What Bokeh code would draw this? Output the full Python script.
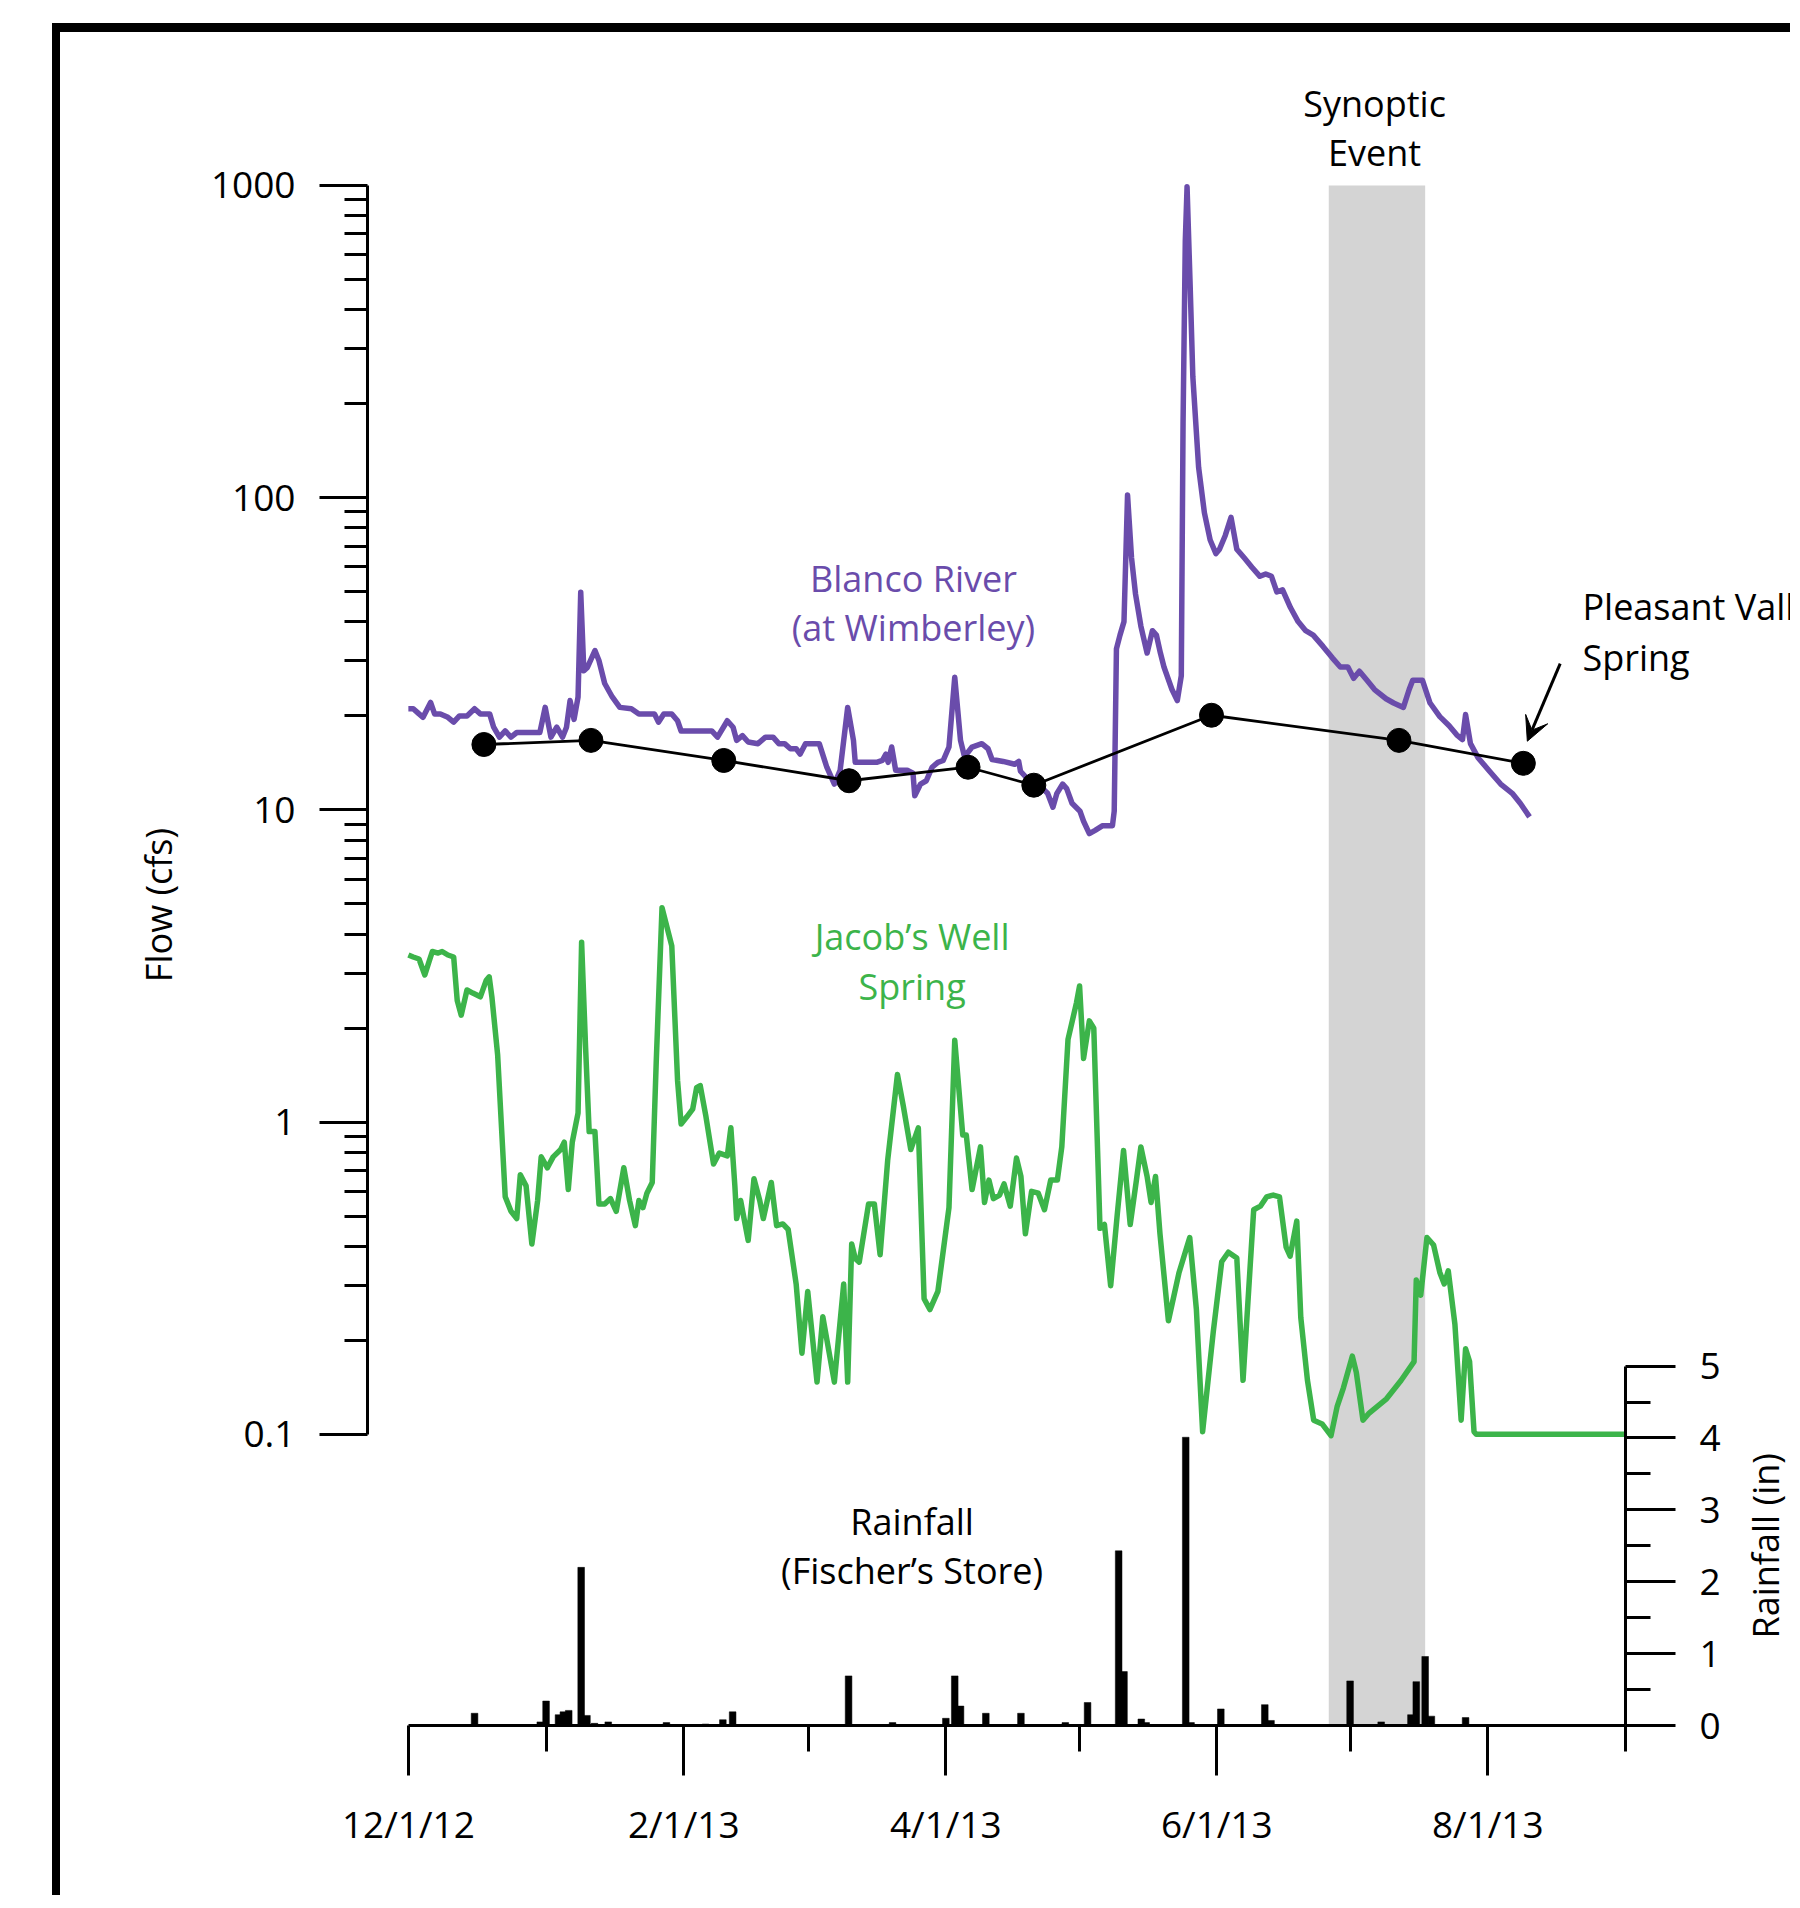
import math
from bokeh.plotting import figure
from bokeh.models import (Range1d, LinearAxis, LinearScale, FixedTicker, BoxAnnotation, Label,
                          Arrow, VeeHead)
from bokeh.embed import file_html
from bokeh.resources import INLINE

# ---------------- data (x = days since 12/1/2012) ----------------
blanco_day = [0, 1.1, 2.4, 3.3, 5.0, 5.9, 7.2, 8.9, 10.2, 11.5, 13.2, 14.9, 16.2, 18.3, 19.2, 20.5,
              21.8, 23.1, 24.4, 27.0, 29.6, 30.8, 32.1, 33.4, 34.7, 35.6, 36.4, 37.3, 38.2, 38.8,
              39.5, 40.3, 42.0, 42.9, 44.2, 45.9, 47.6, 50.2, 51.9, 55.4, 56.3, 57.5, 59.3, 60.6,
              61.4, 68.3, 69.6, 71.8, 73.1, 73.9, 75.2, 76.5, 78.7, 80.4, 82.1, 83.4, 84.7, 86.0,
              87.3, 88.2, 89.4, 92.5, 94.2, 95.9, 97.2, 98.9, 100.2, 100.6, 102.8, 105.4, 106.7,
              107.5, 108.0, 108.8, 109.7, 112.3, 113.6, 114.0, 115.3, 116.6, 117.9, 119.2, 120.4,
              121.7, 123.0, 124.3, 125.2, 126.9, 129.1, 130.5, 131.4, 133.9, 136.5, 137.4, 137.8,
              139.1, 141.7, 143.9, 145.1, 146.0, 147.3, 148.2, 149.4, 151.2, 152.0, 153.3, 154.6,
              156.3, 158.5, 158.9, 159.4, 160.2, 161.1, 161.9, 162.8, 163.7, 164.9, 166.3, 167.5,
              168.4, 169.3, 170.1, 171.9, 173.1, 174.0, 174.4, 174.9, 175.3, 176.0, 176.6, 177.9,
              179.2, 180.5, 181.8, 182.6, 183.9, 185.2, 186.5, 188.2, 189.9, 191.7, 193.0, 194.3,
              195.5, 196.8, 198.6, 200.3, 202.0, 203.7, 205.9, 208.0, 209.8, 211.5, 212.8, 214.1,
              215.8, 217.5, 220.1, 221.8, 224.0, 225.3, 226.1, 228.3, 230.0, 232.2, 234.3, 236.0,
              237.3, 238.0, 239.1, 240.8, 243.4, 245.9, 248.5, 250.3, 252.4]
blanco_cfs = [21.1, 21.1, 20.3, 19.8, 22.1, 20.3, 20.3, 19.8, 19.1, 20.0, 20.0, 21.1, 20.3, 20.3, 18.4, 17.1,
              17.9, 17.1, 17.7, 17.7, 17.7, 21.3, 17.1, 18.4, 17.1, 18.4, 22.4, 19.5, 23.0, 49.8,
              27.9, 28.6, 32.4, 30.1, 25.4, 23.0, 21.3, 21.1, 20.3, 20.3, 19.1, 20.3, 20.3, 19.3,
              17.9, 17.9, 17.1, 19.3, 18.4, 16.7, 17.3, 16.5, 16.3, 17.1, 17.1, 16.3, 16.3, 15.7,
              15.7, 15.1, 16.3, 16.3, 13.7, 12.1, 13.4, 21.3, 16.7, 14.2, 14.2, 14.2, 14.4,
              15.1, 14.2, 15.9, 13.4, 13.4, 13.1, 11.1, 12.1, 12.4, 13.7, 14.2, 14.4,
              15.9, 26.6, 16.7, 14.8, 15.9, 16.3, 15.7, 14.5, 14.3, 14.0, 14.3, 13.3,
              12.7, 12.1, 11.3, 10.2, 11.3, 12.1, 11.7, 10.5, 9.9, 9.2, 8.4, 8.6,
              8.9, 8.9, 9.9, 32.8, 36.3, 40.1, 102, 64.1, 49.1, 38.8, 31.8, 37.5,
              36.3, 31.8, 28.7, 24.3, 22.4, 26.9, 175, 664, 991, 475, 244, 125,
              89.5, 73.2, 66.2, 68.4, 75.7, 86.5, 68.4, 64.1, 59.9, 56.0, 57.0, 56.0,
              49.9, 50.7, 44.4, 40.1, 37.5, 36.3, 33.4, 30.7, 28.7, 28.7, 26.4, 27.8,
              26.0, 24.3, 22.7, 22.0, 21.3, 24.3, 26.0, 26.0, 22.0, 19.9, 18.6, 17.4,
              16.8, 20.2, 16.3, 14.7, 13.3, 12.1, 11.3, 10.5, 9.5]

jacobs_day = [0, 1.1, 2.4, 3.7, 4.6, 5.4, 6.7, 7.6, 8.9, 10.2, 11.0, 11.9, 13.2, 14.5, 16.2, 17.5,
              18.2, 18.8, 20.1, 21.8, 23.1, 24.4, 25.2, 26.5, 27.8, 29.1, 29.9, 31.3, 32.6, 34.3,
              35.1, 36.0, 36.9, 38.2, 39.0, 39.9, 40.7, 42.0, 42.9, 44.2, 45.5, 46.8, 48.5, 49.8,
              51.1, 51.9, 52.8, 53.7, 54.9, 55.8, 57.1, 59.3, 60.6, 61.4, 62.7, 64.0, 64.9, 65.7,
              67.0, 68.7, 70.0, 71.8, 72.6, 73.5, 73.9, 74.8, 76.5, 77.8, 79.1, 79.9, 81.7, 82.9,
              84.3, 85.5, 87.3, 88.6, 89.9, 92.0, 93.3, 95.9, 98.0, 98.9, 99.8, 100.6, 101.5,
              103.6, 104.9, 106.2, 107.9, 110.1, 111.4, 113.1, 114.8, 116.1, 117.4, 119.2, 121.7,
              123.0, 124.8, 125.6, 126.9, 128.8, 129.7, 130.7, 131.7, 133.1, 134.1, 135.5, 136.9,
              137.9, 138.9, 140.3, 141.8, 143.2, 144.6, 146.1, 147.1, 148.5, 150.4, 151.1, 152.0,
              153.3, 154.3, 155.7, 156.7, 158.1, 159.6, 161.0, 162.5, 163.9, 164.9, 166.3, 167.2,
              168.2, 169.2, 171.1, 173.5, 175.9, 177.4, 178.8, 181.2, 183.1, 184.6, 186.5, 187.9,
              190.3, 191.8, 193.2, 194.7, 196.1, 197.6, 198.5, 200.0, 200.9, 202.4, 203.8, 205.7,
              207.7, 209.1, 210.5, 212.5, 213.4, 214.9, 216.3, 220.2, 223.5, 226.4, 226.9, 227.9,
              229.3, 230.8, 232.2, 233.2, 234.1, 235.6, 237.0, 238.0, 238.9, 239.9, 240.4, 274.0]
jacobs_cfs = [3.43, 3.38, 3.33, 2.96, 3.25, 3.52, 3.48, 3.52, 3.43, 3.38, 2.45, 2.20, 2.65, 2.59, 2.52, 2.84,
              2.92, 2.52, 1.64, 0.577, 0.518, 0.491, 0.678, 0.625, 0.407, 0.561, 0.774, 0.714, 0.774, 0.817,
              0.863, 0.608, 0.863, 1.07, 3.77, 1.73, 0.933, 0.933, 0.547, 0.547, 0.569, 0.518, 0.714, 0.561,
              0.466, 0.561, 0.532, 0.592, 0.641, 1.56, 4.86, 3.67, 1.36, 0.986, 1.04, 1.10, 1.29, 1.31,
              1.04, 0.734, 0.796, 0.78, 0.959, 0.625, 0.491, 0.561, 0.418, 0.659, 0.561, 0.491, 0.641, 0.466,
              0.472, 0.453, 0.303, 0.182, 0.287, 0.147, 0.238, 0.147, 0.303, 0.147, 0.407, 0.366, 0.356,
              0.547, 0.547, 0.376, 0.754, 1.42, 1.13, 0.817, 0.959, 0.272, 0.251, 0.287, 0.532,
              1.83, 0.909, 0.909, 0.608, 0.833, 0.553, 0.652, 0.569, 0.584, 0.634, 0.538, 0.767,
              0.670, 0.439, 0.600, 0.592, 0.524, 0.652, 0.652, 0.833, 1.84, 2.41, 2.73, 1.60,
              2.11, 2.00, 0.457, 0.470, 0.299, 0.509, 0.811, 0.470, 0.652, 0.833, 0.670, 0.553,
              0.670, 0.439, 0.231, 0.330, 0.427, 0.251, 0.102, 0.213, 0.357, 0.383, 0.367, 0.149,
              0.524, 0.538, 0.576, 0.584, 0.576, 0.398, 0.372, 0.482, 0.237, 0.149, 0.111, 0.108,
              0.099, 0.123, 0.141, 0.178, 0.158, 0.111, 0.117, 0.130, 0.149, 0.171, 0.312, 0.279,
              0.427, 0.404, 0.330, 0.303, 0.334, 0.225, 0.111, 0.188, 0.171, 0.102, 0.100, 0.100]

pleasant_day = [17.0, 41.1, 71.0, 99.2, 126.0, 140.8, 180.8, 223.0, 251.0]
pleasant_cfs = [16.2, 16.7, 14.4, 12.4, 13.7, 12.0, 20.1, 16.7, 14.1]

rain_day = [14.9, 29.7, 31.0, 33.8, 34.9, 36.1, 38.9, 40.2, 41.9, 45.0, 58.1, 66.9, 70.8, 73.0,
            99.1, 109.0, 121.0, 123.0, 124.3, 130.0, 137.9, 147.9, 152.9, 159.9, 161.1, 165.0,
            166.1, 175.0, 176.2, 182.9, 192.8, 194.2, 212.0, 219.0, 225.7, 226.9, 228.9, 230.3, 238.0]
rain_in = [0.17, 0.05, 0.34, 0.15, 0.19, 0.21, 2.20, 0.14, 0.03, 0.05, 0.04, 0.02, 0.08, 0.19,
           0.69, 0.04, 0.10, 0.69, 0.27, 0.17, 0.17, 0.04, 0.32, 2.43, 0.75, 0.09,
           0.04, 4.01, 0.04, 0.23, 0.29, 0.07, 0.62, 0.05, 0.15, 0.61, 0.96, 0.13, 0.11]

synoptic_start, synoptic_end = 207.2, 228.9   # shaded "Synoptic Event" period (days)

x_tick_days = [0, 62, 121, 182, 243]
x_tick_labels = ["12/1/12", "2/1/13", "4/1/13", "6/1/13", "8/1/13"]
x_minor_days = [31, 90, 151, 212, 274]

flow_ticks = [0.1, 1, 10, 100, 1000]
flow_tick_labels = ["0.1", "1", "10", "100", "1000"]
rain_ticks = [0, 1, 2, 3, 4, 5]
rain_minor = [0.5, 1.5, 2.5, 3.5, 4.5]

# ---------------- styling ----------------
FONT = "Open Sans"
FS = "36px"
TFS = "37px"
PURPLE = "#6A4CAB"
GREEN = "#3CB44A"

p = figure(width=1738, height=1872, output_backend="svg", toolbar_location=None,
           y_axis_type="log", x_range=Range1d(-9.2, 274), y_range=Range1d(0.01168, 2106),
           min_border_left=307, min_border_right=173, min_border_top=52, min_border_bottom=179)
p.extra_y_ranges = {"rain": Range1d(0, 22.83)}
p.extra_y_scales = {"rain": LinearScale()}
p.styles = {"margin-left": "52px", "margin-top": "23px",
            "border-left": "8px solid black", "border-top": "9px solid black"}
p.outline_line_color = None
p.xgrid.visible = False
p.ygrid.visible = False
p.background_fill_color = "white"
p.border_fill_color = "white"

def style_axis(ax):
    ax.axis_line_width = 3
    ax.major_tick_line_width = 3
    ax.minor_tick_line_width = 3
    ax.major_tick_in = 0
    ax.minor_tick_in = 0
    ax.major_label_text_font = FONT
    ax.major_label_text_font_size = TFS
    ax.major_label_text_color = "black"
    ax.axis_label_text_font = FONT
    ax.axis_label_text_font_size = FS
    ax.axis_label_text_font_style = "normal"
    ax.axis_label_text_color = "black"

ya = p.yaxis[0]
style_axis(ya)
ya.ticker = FixedTicker(ticks=flow_ticks,
                        minor_ticks=[m * 10.0 ** e for e in range(-1, 3) for m in range(2, 10)])
ya.bounds = (0.1, 1000)
ya.major_label_overrides = dict(zip(flow_ticks, flow_tick_labels))
ya.major_tick_out = 48
ya.minor_tick_out = 23
ya.major_label_standoff = 24
ya.axis_label = "Flow (cfs)"
ya.axis_label_standoff = 25

xa = p.xaxis[0]
style_axis(xa)
xa.ticker = FixedTicker(ticks=x_tick_days, minor_ticks=x_minor_days)
xa.bounds = (0, 274)
xa.major_label_overrides = dict(zip(x_tick_days, x_tick_labels))
xa.major_tick_out = 50
xa.minor_tick_out = 26
xa.major_label_standoff = 22

ra = LinearAxis(y_range_name="rain")
style_axis(ra)
ra.ticker = FixedTicker(ticks=rain_ticks, minor_ticks=rain_minor)
ra.bounds = (0, 5)
ra.major_tick_out = 50
ra.minor_tick_out = 25
ra.major_label_standoff = 24
p.add_layout(ra, "right")

# shaded synoptic event
p.add_layout(BoxAnnotation(left=synoptic_start, right=synoptic_end, top=1000,
                           fill_color="#D4D4D4", fill_alpha=1.0, line_color=None,
                           level="underlay"))

# rainfall bars
p.vbar(x=rain_day, top=rain_in, bottom=0, width=1.5, y_range_name="rain",
       fill_color="black", line_color="black", line_width=0.5)

# flows
p.line(blanco_day, blanco_cfs, line_color=PURPLE, line_width=5.5, line_join="round")
p.line(jacobs_day, jacobs_cfs, line_color=GREEN, line_width=5.5, line_join="round")
p.line(pleasant_day, pleasant_cfs, line_color="black", line_width=2.8)
p.scatter(pleasant_day, pleasant_cfs, size=24, fill_color="black", line_color="black")

def lab(text, x, y, color="black", align="center", rng="default", place="center", angle=0.0):
    p.add_layout(Label(x=x, y=y, text=text, text_font=FONT, text_font_size=FS,
                       text_color=color, text_align=align, text_baseline="middle",
                       y_range_name=rng, angle=angle), place)

lab("Synoptic", 217.5, 1834)
lab("Event", 217.5, 1276)
lab("Blanco River", 113.7, 55.1, PURPLE)
lab("(at Wimberley)", 113.7, 38.4, PURPLE)
lab("Jacob\u2019s Well", 113.4, 3.93, GREEN)
lab("Spring", 113.4, 2.72, GREEN)
lab("Rainfall", 113.4, 2.84, rng="rain")
lab("(Fischer\u2019s Store)", 113.4, 2.16, rng="rain")
# texts that lie right of the plot area are hosted by side panels (not clipped to the frame);
# they are still positioned in data units
lab("Pleasant Valley", 264.3, 44.8, align="left", place="above")
lab("Spring", 264.3, 30.8, align="left", place="below")
lab("Rainfall (in)", 305.6, 2.5, rng="rain", place="right", angle=math.pi / 2)

p.add_layout(Arrow(end=VeeHead(size=24, fill_color="black", line_color="black"),
                   x_start=259.3, y_start=29.4, x_end=251.9, y_end=16.6,
                   line_width=3, line_color="black"))

open("out.html", "w").write(file_html(p, INLINE))
